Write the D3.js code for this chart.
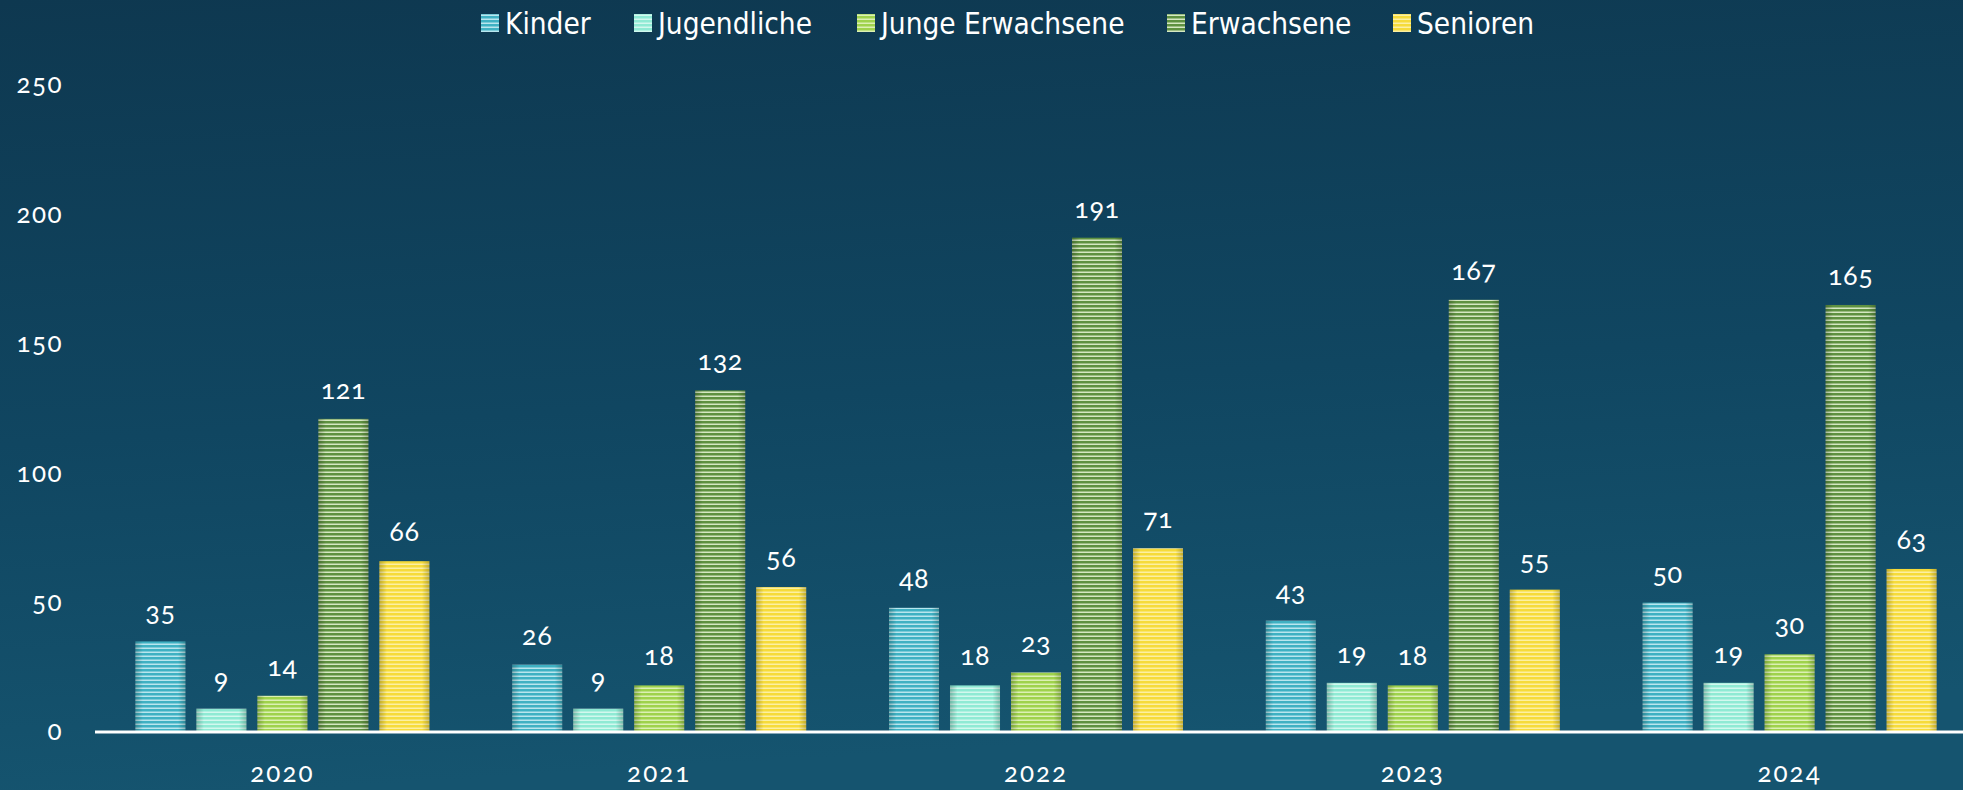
<!DOCTYPE html>
<html>
<head>
<meta charset="utf-8">
<script src="https://cdn.jsdelivr.net/npm/d3@7"></script>
<style>
html, body { margin: 0; padding: 0; overflow: hidden; }
body { width: 1963px; height: 790px; }
</style>
</head>
<body>
<div id="vis"></div>
<script>
var years = ['2020', '2021', '2022', '2023', '2024'];
var groups = ['Kinder', 'Jugendliche', 'Junge Erwachsene', 'Erwachsene', 'Senioren'];
var kinder = [35, 26, 48, 43, 50];
var jugendliche = [9, 9, 18, 19, 19];
var jungeErwachsene = [14, 18, 23, 18, 30];
var erwachsene = [121, 132, 191, 167, 165];
var senioren = [66, 56, 71, 55, 63];
var yTicks = [0, 50, 100, 150, 200, 250];

var colours = ['#3fb1c3', '#8fead4', '#9fd24c', '#5e9140', '#f6db3a'];
var stripes = ['#b9e6ee', '#d2f8ee', '#dcf0b4', '#d5e8c2', '#fcf0a2'];

var seriesValues = [kinder, jugendliche, jungeErwachsene, erwachsene, senioren];

var width = 1963, height = 790;
var margin = { top: 85, bottom: 58, left: 94, right: -15 };

var svg = d3.select('#vis')
    .append('svg')
    .attr('width', width)
    .attr('height', height);

var defs = svg.append('defs');

var bg = defs.append('linearGradient')
    .attr('id', 'bg')
    .attr('x1', 0).attr('y1', 0).attr('x2', 0.15).attr('y2', 1);
bg.append('stop').attr('offset', '0%').attr('stop-color', '#0e3850');
bg.append('stop').attr('offset', '55%').attr('stop-color', '#104661');
bg.append('stop').attr('offset', '100%').attr('stop-color', '#15546f');

svg.append('rect')
    .attr('width', width)
    .attr('height', height)
    .attr('fill', 'url(#bg)');

// stripe patterns, one per series
groups.forEach(function (g, i) {
    var p = defs.append('pattern')
        .attr('id', 'stripe' + i)
        .attr('patternUnits', 'userSpaceOnUse')
        .attr('width', 8)
        .attr('height', 4);
    p.append('rect').attr('width', 8).attr('height', 4).attr('fill', colours[i]);
    p.append('rect').attr('y', 2.5).attr('width', 8).attr('height', 1.5).attr('fill', stripes[i]);
});

// edge shading on the bars
var shade = defs.append('linearGradient')
    .attr('id', 'shade')
    .attr('x1', 0).attr('y1', 0).attr('x2', 1).attr('y2', 0);
shade.append('stop').attr('offset', '0%').attr('stop-color', '#000').attr('stop-opacity', 0.22);
shade.append('stop').attr('offset', '15%').attr('stop-color', '#000').attr('stop-opacity', 0);
shade.append('stop').attr('offset', '85%').attr('stop-color', '#000').attr('stop-opacity', 0);
shade.append('stop').attr('offset', '100%').attr('stop-color', '#000').attr('stop-opacity', 0.22);

var plotW = width - margin.left - margin.right;
var plotH = height - margin.top - margin.bottom;

var g = svg.append('g')
    .attr('transform', 'translate(' + margin.left + ',' + margin.top + ')');

var x_scale = d3.scaleBand()
    .domain(years)
    .range([0, plotW])
    .paddingInner(0)
    .paddingOuter(0);

var inner = d3.scaleBand()
    .domain(groups)
    .range([0, 294])
    .paddingInner(0.18)
    .paddingOuter(0);

var y_scale = d3.scaleLinear()
    .domain([0, 250])
    .range([plotH, 0]);

var data = [];
years.forEach(function (yr, yi) {
    groups.forEach(function (grp, gi) {
        data.push({ year: yr, group: grp, gi: gi, value: seriesValues[gi][yi] });
    });
});

function barX(d) {
    return x_scale(d.year) + (x_scale.bandwidth() - 294) / 2 + inner(d.group);
}

// y axis labels
var y_axis = d3.axisLeft(y_scale)
    .tickValues(yTicks)
    .tickSize(0)
    .tickPadding(31);

g.append('g')
    .attr('class', 'y axis')
    .call(y_axis)
    .call(function (a) { a.select('.domain').remove(); })
    .selectAll('text')
    .attr('fill', '#ffffff')
    .attr('dy', '0.3em')
    .style('font-family', 'Lato, "Open Sans", sans-serif')
    .style('font-size', '26px')
    .style('letter-spacing', '1.5px')
    .style('font-variant-numeric', 'oldstyle-nums');

// bars
var bars = g.selectAll('.bar')
    .data(data)
    .enter()
    .append('g')
    .attr('class', 'bar');

bars.append('rect')
    .attr('x', barX)
    .attr('width', inner.bandwidth())
    .attr('y', function (d) { return y_scale(d.value); })
    .attr('height', function (d) { return plotH - y_scale(d.value); })
    .attr('fill', function (d) { return 'url(#stripe' + d.gi + ')'; });

bars.append('rect')
    .attr('x', barX)
    .attr('width', inner.bandwidth())
    .attr('y', function (d) { return y_scale(d.value); })
    .attr('height', function (d) { return plotH - y_scale(d.value); })
    .attr('fill', 'url(#shade)');

bars.append('text')
    .attr('x', function (d) { return barX(d) + inner.bandwidth() / 2; })
    .attr('y', function (d) { return y_scale(d.value) - 20; })
    .attr('text-anchor', 'middle')
    .attr('fill', '#ffffff')
    .style('font-family', 'Lato, "Open Sans", sans-serif')
    .style('font-size', '27px')
    .style('letter-spacing', '0.5px')
    .style('font-variant-numeric', 'oldstyle-nums')
    .text(function (d) { return d.value; });

// x axis
var x_axis = d3.axisBottom(x_scale)
    .tickSize(0)
    .tickPadding(0);

var xg = g.append('g')
    .attr('class', 'x axis')
    .attr('transform', 'translate(0,' + plotH + ')')
    .call(x_axis);

xg.select('.domain').remove();
xg.selectAll('text')
    .attr('fill', '#ffffff')
    .attr('y', 50)
    .attr('dy', null)
    .style('font-family', 'Lato, "Open Sans", sans-serif')
    .style('font-size', '26px')
    .style('letter-spacing', '2px')
    .style('font-variant-numeric', 'oldstyle-nums');

g.append('line')
    .attr('x1', 1)
    .attr('x2', width - margin.left)
    .attr('y1', plotH)
    .attr('y2', plotH)
    .attr('stroke', '#ffffff')
    .attr('stroke-width', 3);

// legend
var legendX = [481, 634, 857, 1167, 1393];
var legend = svg.append('g').attr('class', 'legend');
groups.forEach(function (grp, i) {
    var item = legend.append('g').attr('transform', 'translate(' + legendX[i] + ',0)');
    item.append('rect')
        .attr('x', 0).attr('y', 14)
        .attr('width', 18).attr('height', 18)
        .attr('fill', 'url(#stripe' + i + ')');
    item.append('text')
        .attr('x', 24)
        .attr('y', 34)
        .attr('fill', '#ffffff')
        .style('font-family', '"DejaVu Sans Condensed", "DejaVu Sans", sans-serif')
        .style('font-stretch', 'condensed')
        .style('font-size', '29.5px')
        .text(grp);
});
</script>
</body>
</html>
